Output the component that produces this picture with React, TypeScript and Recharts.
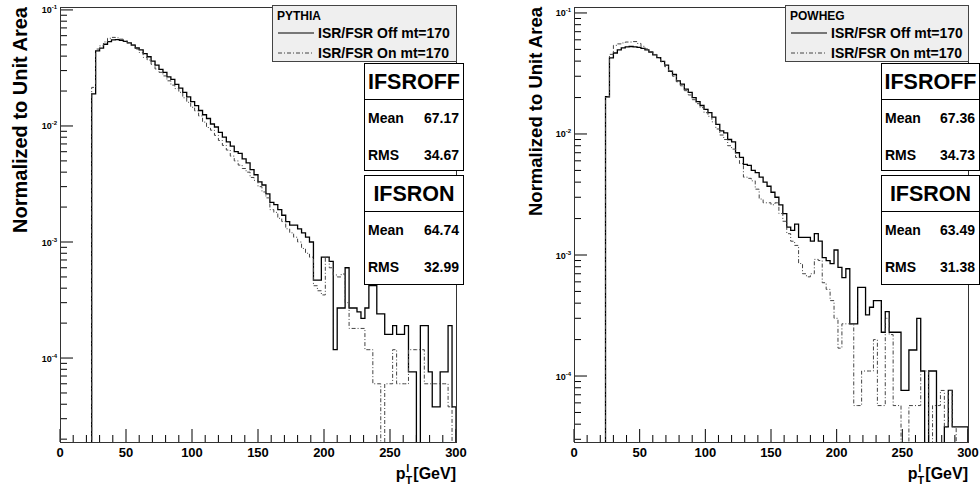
import React from "react";
import { LineChart, Line, XAxis, YAxis } from "recharts";

// low edge of each 3 GeV bin, 24 .. 297
const binLow = Array.from({ length: 92 }, (_, i) => 24 + 3 * i);

const pythiaOff = [
  0.0189, 0.0443, 0.0468, 0.0506, 0.0533, 0.0551, 0.0555, 0.0548, 0.0535, 0.052,
  0.0498, 0.047, 0.0452, 0.042, 0.0395, 0.0362, 0.0335, 0.0308, 0.029, 0.0265,
  0.0252, 0.0228, 0.0212, 0.0195, 0.0178, 0.0162, 0.015, 0.0136, 0.0125, 0.0116,
  0.0104, 0.0098, 0.0088, 0.008, 0.0073, 0.0067, 0.006, 0.0058, 0.0052, 0.0048,
  0.0042, 0.0038, 0.0033, 0.0031, 0.0026, 0.0022, 0.0021, 0.0019, 0.0017, 0.0015,
  0.0014, 0.0014, 0.0013, 0.0012, 0.0011, 0.001, 0.00047, 0.00047, 0.00074, 0.00074,
  0.00068, 0.000118, 0.00027, 0.00027, 0.0006, 0.00027, 0.00027, 0.00025, 0.00022, 0.00027,
  0.00042, 0.00042, 0.00024, 0.00024, 0.00016, 0.00016, 0.00019, 0.00016, 0.00016, 0.00019,
  0.000076, 0.000076, 0, 0.00019, 0.00019, 0.000076, 0.000038, 0.000038, 0.000076, 0.000076,
  0.00019, 0.000038,
];
const pythiaOn = [
  0.0215, 0.046, 0.049, 0.053, 0.057, 0.058, 0.0575, 0.056, 0.054, 0.052,
  0.05, 0.046, 0.043, 0.039, 0.037, 0.034, 0.031, 0.029, 0.027, 0.0245,
  0.0225, 0.021, 0.0195, 0.0175, 0.016, 0.0145, 0.0135, 0.0122, 0.0108, 0.0097,
  0.0092, 0.0083, 0.0075, 0.0068, 0.0062, 0.0055, 0.005, 0.0046, 0.0043, 0.004,
  0.0036, 0.0034, 0.003, 0.0027, 0.0024, 0.0019, 0.0018, 0.0016, 0.0015, 0.0013,
  0.0012, 0.0011, 0.001, 0.00088, 0.0008, 0.00074, 0.00042, 0.00038, 0.00035, 0.00074,
  0.0006, 0.00052, 0.0005, 0.00053, 0.0003, 0.00018, 0.00018, 0.00018, 0.00018, 0.000118,
  0.000118, 0.00006, 0.00006, 0, 0.00006, 0.00006, 0.000118, 0.00006, 0.00006, 0.00006,
  0.000118, 0.000118, 0.000118, 0.000118, 0.00006, 0.00006, 0.00006, 0.00006, 0.00006, 0.00006,
  0.000038, 0,
];
const powhegOff = [
  0.0203, 0.0425, 0.0467, 0.0495, 0.0515, 0.0524, 0.0528, 0.0525, 0.052, 0.051,
  0.0495, 0.0475, 0.045, 0.0428, 0.0398, 0.037, 0.033, 0.031, 0.0275, 0.0258,
  0.0235, 0.0221, 0.02, 0.0185, 0.0172, 0.016, 0.015, 0.0138, 0.012, 0.0106,
  0.0102, 0.009, 0.0086, 0.007, 0.0064, 0.0056, 0.0055, 0.005, 0.0048, 0.0044,
  0.004, 0.0037, 0.0033, 0.003, 0.0026, 0.0022, 0.0017, 0.0016, 0.0018, 0.0014,
  0.0014, 0.0014, 0.0013, 0.0015, 0.0013, 0.00095, 0.0009, 0.00085, 0.0011, 0.00079,
  0.00065, 0.00077, 0.00027, 0.00027, 0.00054, 0.00054, 0.00032, 0.00037, 0.00042, 0.00042,
  0.00023, 0.00034, 0.00023, 0.00023, 0.00023, 0.000076, 0.000076, 0.000164, 0.000164, 0.0003,
  0.00011, 0, 0.00011, 0.00011, 0, 0, 0.000038, 0.000076, 0.000038, 0.000038,
  0.000038, 0.000038,
];
const powhegOn = [
  0.0203, 0.0455, 0.054, 0.0555, 0.0565, 0.0575, 0.0575, 0.058, 0.056, 0.053,
  0.0505, 0.048, 0.0455, 0.0425, 0.0395, 0.036, 0.033, 0.03, 0.027, 0.025,
  0.0228, 0.021, 0.0192, 0.0178, 0.0165, 0.015, 0.014, 0.0126, 0.011, 0.0098,
  0.009, 0.008, 0.0075, 0.0064, 0.0057, 0.0044, 0.0043, 0.0041, 0.0035, 0.0029,
  0.0027, 0.0027, 0.0026, 0.0027, 0.0022, 0.0019, 0.0015, 0.0013, 0.0012, 0.00085,
  0.0007, 0.00066, 0.0007, 0.00092, 0.0009, 0.00059, 0.00052, 0.00042, 0.0003, 0.00017,
  0.00027, 0.00027, 0.00027, 0.000057, 0.000057, 0.00011, 0.00011, 0.00011, 0.0002, 0.000057,
  0.000057, 0.0003, 0.00022, 0.000057, 0.000057, 0, 0, 0.000057, 0.000057, 0.000057,
  0.00011, 0.00011, 0, 0.000057, 0.000057, 0.000076, 0.000038, 0.000076, 0.000038, 0,
  0, 0,
];

const xTicks = [0, 10, 20, 30, 40, 50, 60, 70, 80, 90, 100, 110, 120, 130, 140, 150,
  160, 170, 180, 190, 200, 210, 220, 230, 240, 250, 260, 270, 280, 290, 300];

const legendLabels = ["ISR/FSR Off mt=170", "ISR/FSR On mt=170"];
const pythiaStats = [
  { name: "IFSROFF", mean: "67.17", rms: "34.67" },
  { name: "IFSRON", mean: "64.74", rms: "32.99" },
];
const powhegStats = [
  { name: "IFSROFF", mean: "67.36", rms: "34.73" },
  { name: "IFSRON", mean: "63.49", rms: "31.38" },
];

const FLOOR = 1e-7; // empty bins fall below the axis and get clipped
const FONT = "'Liberation Sans', Arial, Helvetica, sans-serif";

function buildRows(off: number[], on: number[]) {
  const rows = [{ x: 21, off: FLOOR, on: FLOOR }];
  binLow.forEach((x, i) => rows.push({ x, off: off[i] || FLOOR, on: on[i] || FLOOR }));
  rows.push({ x: 300, off: FLOOR, on: FLOOR });
  return rows;
}

function logTicks(lo: number, hi: number) {
  const t: number[] = [];
  for (let d = -5; d <= -1; d++)
    for (let m = 1; m <= 9; m++) {
      const v = m * Math.pow(10, d);
      if (v >= lo && v <= hi * 1.0001) t.push(v);
    }
  return t;
}

const XTick = (props: any) => {
  const { x, y, payload } = props;
  const v = payload.value;
  const major = v % 50 === 0;
  return (
    <g>
      <line x1={x} x2={x} y1={y} y2={y - (major ? 13 : 7)} stroke="#000" />
      {major && (
        <text x={x} y={y + 15} textAnchor="middle" fontSize={13} fontWeight="bold" fill="#000" fontFamily={FONT}>
          {v}
        </text>
      )}
    </g>
  );
};

const YTick = (props: any) => {
  const { x, y, payload } = props;
  const lg = Math.log10(payload.value);
  const major = Math.abs(lg - Math.round(lg)) < 1e-6;
  return (
    <g>
      <line x1={x} x2={x + (major ? 13 : 7)} y1={y} y2={y} stroke="#000" />
      {major && (
        <text x={x - 3} y={y + 3.5} textAnchor="end" fontSize={9} fontWeight="bold" fill="#000" fontFamily={FONT}>
          10<tspan dy={-4} fontSize={6}>{String(Math.round(lg))}</tspan>
        </text>
      )}
    </g>
  );
};

function StatBox({ x, w, top, h, s }: { x: number; w: number; top: number; h: number; s: any }) {
  return (
    <g fontFamily={FONT} fontWeight="bold" fill="#000">
      <rect x={x + 0.5} y={top + 0.5} width={w} height={h} fill="#fff" stroke="#000" />
      <text x={x + w / 2 + 0.5} y={top + 26} textAnchor="middle" fontSize={21.5}>{s.name}</text>
      <line x1={x} x2={x + w} y1={top + 36.5} y2={top + 36.5} stroke="#000" />
      <text x={x + 4} y={top + 60} fontSize={14}>Mean</text>
      <text x={x + w - 4} y={top + 60} fontSize={14} textAnchor="end">{s.mean}</text>
      <text x={x + 4} y={top + 97} fontSize={14}>RMS</text>
      <text x={x + w - 4} y={top + 97} fontSize={14} textAnchor="end">{s.rms}</text>
    </g>
  );
}

function Panel(props: {
  left: number; gen: string; off: number[]; on: number[]; domain: [number, number];
  plotLeft: number; plotRight: number; legendX: number; statsX: number; statsW: number;
  titleX: number; titleSize: number; stats: any[];
}) {
  const { left, gen, off, on, domain, plotLeft, plotRight, legendX, statsX, statsW, titleX, titleSize, stats } = props;
  const W = 490, H = 491, top = 7, bottom = 442;
  const rows = buildRows(off, on);
  return (
    <div style={{ position: "absolute", left, top: 0, width: W, height: H }}>
      <LineChart width={W} height={H} data={rows} margin={{ top, right: W - plotRight, bottom: H - bottom - 30, left: 0 }}>
        <XAxis dataKey="x" type="number" domain={[0, 300]} ticks={xTicks} interval={0} height={30}
          axisLine={false} tickLine={false} tickSize={0} tickMargin={0} tick={<XTick />} />
        <YAxis type="number" scale="log" domain={domain} allowDataOverflow ticks={logTicks(domain[0], domain[1])}
          interval={0} width={plotLeft} axisLine={false} tickLine={false} tickSize={0} tickMargin={0} tick={<YTick />} />
        <Line dataKey="off" type="stepAfter" stroke="#000" strokeWidth={1.3} dot={false} isAnimationActive={false} />
        <Line dataKey="on" type="stepAfter" stroke="#444" strokeWidth={1} strokeDasharray="4 2 1 2" dot={false} isAnimationActive={false} />
      </LineChart>
      <svg width={W} height={H} style={{ position: "absolute", left: 0, top: 0, overflow: "visible", pointerEvents: "none" }}>
        <rect x={plotLeft + 0.5} y={top + 0.5} width={plotRight - plotLeft} height={bottom - top} fill="none" stroke="#333" />
        <text transform={`translate(${titleX},${top}) rotate(-90)`} textAnchor="end" fontSize={titleSize}
          fontWeight="bold" fontFamily={FONT} fill="#000">Normalized to Unit Area</text>
        <text x={plotRight} y={479} textAnchor="end" fontSize={16} fontWeight="bold" fontFamily={FONT} fill="#000">
          p<tspan dy={5} fontSize={11}>T</tspan><tspan dx={-6} dy={-12} fontSize={11}>l</tspan>
          <tspan dx={4} dy={7}>[GeV]</tspan>
        </text>
        <g fontFamily={FONT} fontWeight="bold" fill="#000">
          <rect x={legendX + 0.5} y={5.5} width={plotRight - legendX} height={56} fill="#efefef" stroke="#444" />
          <text x={legendX + 5} y={20} fontSize={12}>{gen}</text>
          <line x1={legendX + 6} x2={legendX + 42} y1={33} y2={33} stroke="#000" strokeWidth={1.2} />
          <text x={legendX + 46} y={38} fontSize={14}>{legendLabels[0]}</text>
          <line x1={legendX + 6} x2={legendX + 42} y1={53} y2={53} stroke="#444" strokeDasharray="4 2 1 2" />
          <text x={legendX + 46} y={58} fontSize={14}>{legendLabels[1]}</text>
        </g>
        <StatBox x={statsX} w={statsW} top={63} h={107} s={stats[0]} />
        <StatBox x={statsX} w={statsW} top={175} h={109} s={stats[1]} />
      </svg>
    </div>
  );
}

export default function App() {
  return (
    <div style={{ position: "relative", width: 980, height: 491, background: "#fff", fontFamily: FONT }}>
      <style>{`body{margin:0}`}</style>
      <Panel left={0} gen="PYTHIA" off={pythiaOff} on={pythiaOn} domain={[1.89e-5, 0.106]}
        plotLeft={60} plotRight={456} legendX={272} statsX={364} statsW={99}
        titleX={27} titleSize={20} stats={pythiaStats} />
      <Panel left={490} gen="POWHEG" off={powhegOff} on={powhegOn} domain={[2.85e-5, 0.112]}
        plotLeft={84} plotRight={478} legendX={295} statsX={391} statsW={98}
        titleX={52} titleSize={18.5} stats={powhegStats} />
    </div>
  );
}
